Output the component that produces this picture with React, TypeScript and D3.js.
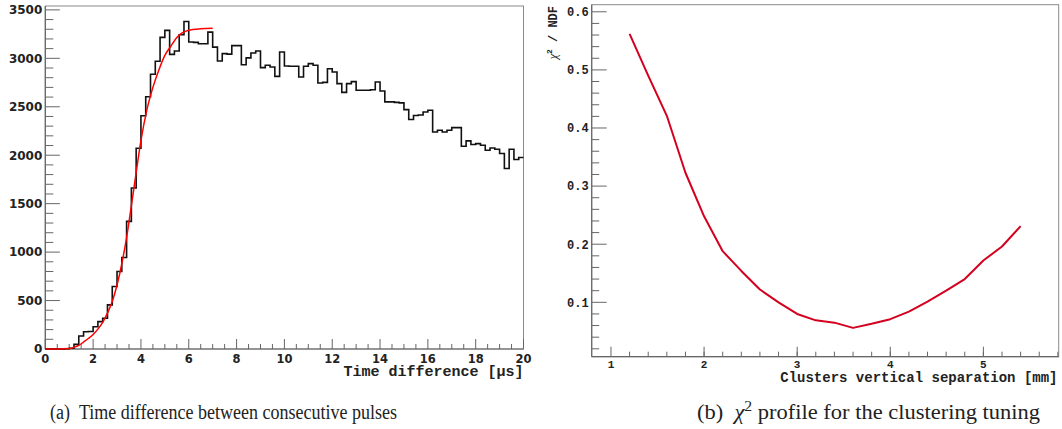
import React from 'react';
import * as d3 from 'd3';

// ---------- Panel (a) data ----------
const histLowEdges = d3.range(0, 100).map((k) => k * 0.2);
const histCounts = [
  0, 0, 0, 0, 2, 8, 48, 134, 178, 180,
  230, 283, 318, 455, 645, 800, 945, 1317, 1661, 2072,
  2407, 2603, 2836, 2970, 3216, 3288, 3041, 3075, 3243, 3380,
  3168, 3165, 3150, 3150, 3270, 3116, 2973, 3048, 3043, 3131,
  3131, 2933, 3005, 3055, 3075, 2904, 2928, 2911, 2814, 3065,
  2921, 2918, 2918, 2807, 2918, 2945, 2928, 2746, 2752, 2893,
  2859, 2739, 2649, 2739, 2760, 2670, 2670, 2670, 2675, 2756,
  2663, 2550, 2550, 2545, 2540, 2471, 2368, 2410, 2415, 2446,
  2464, 2240, 2258, 2240, 2258, 2285, 2285, 2093, 2148, 2110,
  2120, 2103, 2052, 2075, 2062, 2017, 1863, 2062, 1956, 1976,
];
const histUpperEdge = 20;
const fitX = [0, 0.5, 1.0, 1.2, 1.4, 1.6, 1.8, 2.0, 2.2, 2.4, 2.6, 2.8, 3.0, 3.2, 3.4, 3.6, 3.8, 4.0, 4.25, 4.5, 4.75, 5.0, 5.25, 5.5, 6.0, 6.5, 7.0];
const fitY = [0, 0, 4, 18, 38, 72, 108, 150, 205, 275, 370, 490, 660, 880, 1150, 1480, 1820, 2150, 2470, 2700, 2880, 3030, 3125, 3215, 3290, 3305, 3310];
const leftXTicks = d3.range(0, 21, 2);
const leftXMinor = d3.range(0, 20.01, 0.5);
const leftYTicks = d3.range(0, 3501, 500);
const leftYMinor = d3.range(0, 3501, 100);

// ---------- Panel (b) data ----------
const sepX = [1.2, 1.4, 1.6, 1.8, 2.0, 2.2, 2.4, 2.6, 2.8, 3.0, 3.2, 3.4, 3.6, 3.8, 4.0, 4.2, 4.4, 4.6, 4.8, 5.0, 5.2, 5.4];
const chi2 = [0.562, 0.490, 0.421, 0.323, 0.248, 0.188, 0.154, 0.122, 0.100, 0.080, 0.069, 0.065, 0.056, 0.063, 0.071, 0.084, 0.101, 0.120, 0.140, 0.172, 0.196, 0.231];
const rightXTicks = [1, 2, 3, 4, 5];
const rightXMinor = d3.range(1.2, 5.81, 0.2);
const rightYTicks = [0.1, 0.2, 0.3, 0.4, 0.5, 0.6];
const rightYMinor = d3.range(0.02, 0.601, 0.02);

const AXIS = '#666';
const FRAME = '#8a8a8a';
const SANS = "'DejaVu Sans', sans-serif";
const MONO = "'Liberation Mono', 'DejaVu Sans Mono', monospace";
const SERIF = "'Liberation Serif', 'DejaVu Serif', serif";

function PanelA() {
  const x = d3.scaleLinear().domain([0, 20]).range([45.3, 523.5]);
  const y = d3.scaleLinear().domain([0, 3540]).range([349, 6]);
  const stepPts: [number, number][] = histLowEdges.map((e, i) => [e, histCounts[i]]);
  stepPts.push([histUpperEdge, histCounts[histCounts.length - 1]]);
  const histPath = d3.line<[number, number]>().x((d) => x(d[0])).y((d) => y(d[1])).curve(d3.curveStepAfter)(stepPts) || '';
  const fitPath = d3.line<number>().x((d) => x(d)).y((_, i) => y(fitY[i])).curve(d3.curveMonotoneX)(fitX) || '';
  const [x0, x1] = x.range();
  const [y0, y1] = y.range();
  return (
    <g>
      <rect x={x0} y={y1} width={x1 - x0} height={y0 - y1} fill="none" stroke={FRAME} strokeWidth={1} />
      {leftYMinor.map((v) => (
        <line key={'ym' + v} x1={x0} x2={x0 + (v % 500 === 0 ? 14.5 : 8)} y1={y(v)} y2={y(v)} stroke={AXIS} strokeWidth={1} />
      ))}
      {leftXMinor.map((v) => (
        <line key={'xm' + v} x1={x(v)} x2={x(v)} y1={y0} y2={y0 - (v % 2 === 0 ? 10 : 5)} stroke={AXIS} strokeWidth={1} />
      ))}
      <line x1={x0} x2={x0} y1={y0} y2={y1} stroke={AXIS} strokeWidth={1.2} />
      <line x1={x0} x2={x1} y1={y0} y2={y0} stroke={AXIS} strokeWidth={1.2} />
      {leftYTicks.map((v) => (
        <text key={'yl' + v} x={x0 - 3} y={y(v)} dy="0.36em" textAnchor="end" fontFamily={SANS} fontWeight="bold" fontSize={12} fill="#222">
          {v}
        </text>
      ))}
      {leftXTicks.map((v) => (
        <text key={'xl' + v} x={x(v)} y={362.5} textAnchor="middle" fontFamily={SANS} fontWeight="bold" fontSize={11.5} fill="#222">
          {v}
        </text>
      ))}
      <text x={523.5} y={376} textAnchor="end" fontFamily={MONO} fontWeight="bold" fontSize={15} fill="#222">
        Time difference [μs]
      </text>
      <path d={histPath} fill="none" stroke="#111" strokeWidth={1.6} />
      <path d={fitPath} fill="none" stroke="#ff0000" strokeWidth={1.5} />
    </g>
  );
}

function PanelB() {
  const x = d3.scaleLinear().domain([0.793, 5.809]).range([591.7, 1058.7]);
  const y = d3.scaleLinear().domain([0.0064, 0.6122]).range([356.7, 4.7]);
  const linePath = d3.line<number>().x((d) => x(d)).y((_, i) => y(chi2[i]))(sepX) || '';
  const [x0, x1] = x.range();
  const [y0, y1] = y.range();
  return (
    <g>
      <rect x={x0} y={y1} width={x1 - x0} height={y0 - y1} fill="none" stroke={FRAME} strokeWidth={1} />
      {rightYMinor.map((v, i) => (
        <line key={'ym' + i} x1={x0} x2={x0 + ((i + 1) % 5 === 0 ? 15 : 7.5)} y1={y(v)} y2={y(v)} stroke={AXIS} strokeWidth={1} />
      ))}
      {rightXMinor.map((v, i) => (
        <line key={'xm' + i} x1={x(v)} x2={x(v)} y1={y0} y2={y0 - 5} stroke={AXIS} strokeWidth={1} />
      ))}
      {rightXTicks.map((v) => (
        <line key={'xM' + v} x1={x(v)} x2={x(v)} y1={y0} y2={y0 - 10} stroke={AXIS} strokeWidth={1} />
      ))}
      <line x1={x0} x2={x0} y1={y0} y2={y1} stroke={AXIS} strokeWidth={1.2} />
      <line x1={x0} x2={x1} y1={y0} y2={y0} stroke={AXIS} strokeWidth={1.2} />
      {rightYTicks.map((v) => (
        <text key={'yl' + v} x={x0 - 3} y={y(v)} dy="0.36em" textAnchor="end" fontFamily={MONO} fontWeight="bold" fontSize={12} fill="#222">
          {v.toFixed(1)}
        </text>
      ))}
      {rightXTicks.map((v) => (
        <text key={'xl' + v} x={x(v)} y={368} textAnchor="middle" fontFamily={MONO} fontWeight="bold" fontSize={11} fill="#222">
          {v}
        </text>
      ))}
      <text x={1057.5} y={381.5} textAnchor="end" fontFamily={MONO} fontWeight="bold" fontSize={14} fill="#222">
        Clusters vertical separation [mm]
      </text>
      <text transform="translate(557,6) rotate(-90)" textAnchor="end" fontFamily={MONO} fontWeight="bold" fontSize={12} fill="#222">
        <tspan fontFamily={SERIF} fontWeight="normal" fontStyle="italic">χ</tspan>
        <tspan fontSize={8} dy={-5}>2</tspan>
        <tspan dy={5}> / NDF</tspan>
      </text>
      <path d={linePath} fill="none" stroke="#d4001f" strokeWidth={2} strokeLinejoin="round" />
    </g>
  );
}

export default function App() {
  return (
    <div style={{ position: 'absolute', left: 0, top: 0 }}>
      <svg width={1062} height={429} viewBox="0 0 1062 429" style={{ display: 'block', background: '#fff' }}>
        <rect x={0} y={0} width={1062} height={429} fill="#fff" />
        <PanelA />
        <PanelB />
        <text x={50} y={419} fontFamily={SERIF} fontSize={20} fill="#222" textLength={347} lengthAdjust="spacingAndGlyphs">
          {'(a)\u00a0\u00a0Time difference between consecutive pulses'}
        </text>
        <text x={697} y={419} fontFamily={SERIF} fontSize={20} fill="#222" textLength={343} lengthAdjust="spacingAndGlyphs">
          {'(b)\u00a0\u00a0'}
          <tspan fontStyle="italic">χ</tspan>
          <tspan fontSize={14} dy={-8}>2</tspan>
          <tspan dy={8}>{'\u00a0profile for the clustering tuning'}</tspan>
        </text>
      </svg>
    </div>
  );
}
